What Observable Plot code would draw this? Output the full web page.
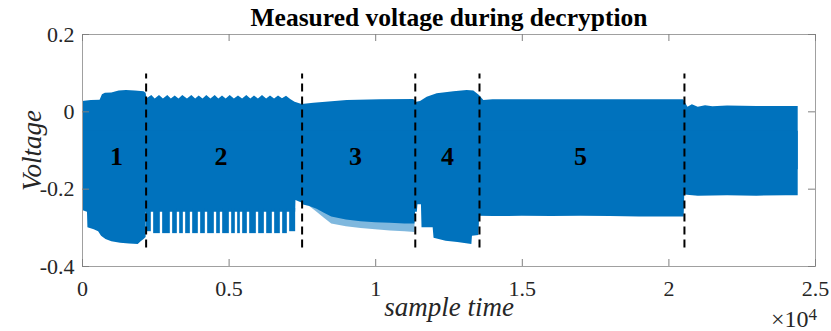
<!DOCTYPE html>
<html><head><meta charset="utf-8">
<script src="https://cdn.jsdelivr.net/npm/d3@7"></script>
<script src="https://cdn.jsdelivr.net/npm/@observablehq/plot@0.6"></script>
<style>html,body{margin:0;padding:0;background:#fff}</style>
</head><body><div id="chart"></div>
<script>
// ---- data ----
const titleText = "Measured voltage during decryption";
const xLabelText = "sample time";
const yLabelText = "Voltage";
const xTicks = [0, 5000, 10000, 15000, 20000, 25000];
const yTicks = [-0.4, -0.2, 0, 0.2];

// upper envelope of the measured signal
const upperT = [0,300,600,680,780,1000,1250,1500,1800,2100,2170,
  2200,2364,2480,2626,2760,2909,3030,3162,3290,3421,3580,3728,3860,3980,4110,4240,4380,4526,4650,4775,4900,5037,5180,5320,5460,5604,5740,5866,6000,6139,6280,6412,6550,6685,6820,6958,7100,7250,7490,
  7890,9028,10164,11300,11400,11528,11756,12097,12665,13120,13347,13540,
  13688,14000,15000,16000,17000,18000,19000,20000,20500,
  20550,20650,20800,21000,21250,21500,22000,23000,24410];
const upperV = [0.027,0.029,0.030,0.044,0.048,0.049,0.054,0.055,0.054,0.052,0.048,
  0.034,0.042,0.033,0.042,0.033,0.042,0.033,0.041,0.033,0.042,0.033,0.042,0.033,0.041,0.033,0.042,0.033,0.042,0.033,0.041,0.033,0.042,0.033,0.041,0.033,0.042,0.033,0.041,0.033,0.042,0.033,0.041,0.033,0.041,0.034,0.040,0.032,0.025,0.019,
  0.022,0.029,0.031,0.032,0.025,0.027,0.038,0.047,0.052,0.055,0.054,0.042,
  0.029,0.031,0.031,0.031,0.031,0.031,0.031,0.031,0.031,
  0.025,0.012,0.018,0.012,0.016,0.013,0.015,0.014,0.014];

// lower envelope (solid part)
const lowerT = [0,170,185,400,550,650,800,1000,1300,1600,1900,2000,2100,2170,
  2175,7270,7280,7480,
  7500,7750,8000,8250,8500,9000,9500,10000,10500,11000,11340,
  11360,11420,11440,11560,11580,11700,11960,11990,12400,12800,13100,13280,13300,13520,
  13545,14000,15000,16000,17000,18000,19000,20000,20520,
  20540,21000,22000,23000,24000,24410];
const lowerV = [-0.255,-0.26,-0.30,-0.305,-0.31,-0.322,-0.33,-0.336,-0.34,-0.342,-0.343,-0.336,-0.33,-0.325,
  -0.26,-0.26,-0.229,-0.236,
  -0.24,-0.245,-0.252,-0.262,-0.272,-0.28,-0.284,-0.287,-0.288,-0.29,-0.29,
  -0.26,-0.26,-0.24,-0.24,-0.30,-0.30,-0.30,-0.327,-0.335,-0.338,-0.341,-0.343,-0.322,-0.32,
  -0.27,-0.271,-0.27,-0.271,-0.27,-0.271,-0.272,-0.272,-0.272,
  -0.215,-0.218,-0.217,-0.218,-0.217,-0.217];

// lighter fringe of thin spikes below the solid band in part 3
const fringeT = [7750,8000,8250,8500,9000,9500,10000,10500,11000,11340];
const fringeV = [-0.245,-0.26,-0.275,-0.29,-0.297,-0.302,-0.305,-0.308,-0.31,-0.312];

// comb of deeper excursions in part 2 (start, end, depth)
const combStart = [2180,2427,2734,3075,3314,3519,3758,4030,4269,4576,4781,5088,5292,5463,5702,6009,6282,6554,6827,7066];
const combEnd   = [2347,2654,2995,3234,3439,3678,3950,4189,4496,4701,5008,5212,5383,5622,5929,6202,6474,6747,6986,7270];
const combDepth = [-0.31,-0.315,-0.315,-0.315,-0.315,-0.315,-0.315,-0.315,-0.315,-0.315,-0.315,-0.315,-0.315,-0.315,-0.315,-0.315,-0.315,-0.315,-0.315,-0.31];

// phase dividers and labels
const dividerX = [2170, 7490, 11350, 13540, 20530];
const phaseLabels = ["1","2","3","4","5"];
const phaseLabelX = [1160, 4724, 9311, 12449, 16985];
const phaseLabelY = -0.115;

// ---- build tables ----
const BLUE = "#0072BD";
const FONT = "'Liberation Serif','Times New Roman',Times,serif";
const upper = upperT.map((t,i)=>({t, v: upperV[i]}));
const lower = lowerT.map((t,i)=>({t, v: lowerV[i]}));
const fringe = fringeT.map((t,i)=>({t, v: fringeV[i]}));
const comb = combStart.map((a,i)=>({a, b: combEnd[i], d: combDepth[i]}));
const labels = phaseLabels.map((s,i)=>({s, x: phaseLabelX[i], y: phaseLabelY}));

const mL = 82, mR = 16, mT = 34, mB = 65, W = 831, H = 331;
const innerW = W - mL - mR, innerH = H - mT - mB, TL = 7;

const chart = Plot.plot({
  width: W, height: H,
  marginLeft: mL, marginRight: mR, marginTop: mT, marginBottom: mB,
  x: {domain: [0, 25000]},
  y: {domain: [-0.4, 0.2]},
  style: {fontFamily: FONT, background: "#fff", overflow: "visible"},
  marks: [
    Plot.areaY(fringe, {x: "t", y1: "v", y2: -0.2, fill: BLUE, fillOpacity: 0.5}),
    Plot.areaY(upper, {x: "t", y1: -0.15, y2: "v", fill: BLUE}),
    Plot.areaY(lower, {x: "t", y1: "v", y2: -0.05, fill: BLUE}),
    Plot.rect(comb, {x1: "a", x2: "b", y1: "d", y2: -0.25, fill: BLUE}),
    Plot.ruleX(dividerX, {x: d=>d, y1: -0.352, y2: 0.098, stroke: "#000", strokeWidth: 2, strokeDasharray: "8,5"}),
    Plot.text(labels, {x: "x", y: "y", text: "s", fontSize: 26, fontWeight: "bold", fill: "#000"}),
    Plot.frame({stroke: "#a0a0a0"}),
    Plot.tickX(xTicks, {x: d=>d, insetTop: innerH - TL, stroke: "#808080"}),
    Plot.tickX(xTicks, {x: d=>d, insetBottom: innerH - TL, stroke: "#808080"}),
    Plot.tickY(yTicks, {y: d=>d, insetRight: innerW - TL, stroke: "#808080"}),
    Plot.tickY(yTicks, {y: d=>d, insetLeft: innerW - TL, stroke: "#808080"}),
    Plot.axisX(xTicks, {tickSize: 0, tickPadding: 14, fontSize: 22, fill: "#262626", tickFormat: d => String(d/1e4), label: null}),
    Plot.axisY(yTicks, {tickSize: 0, tickPadding: 8, fontSize: 22, fill: "#262626", tickFormat: d => String(d), label: null}),
    Plot.text([titleText], {text: d=>d, frameAnchor: "top", dy: -9, lineAnchor: "bottom", fontSize: 25.5, fontWeight: "bold", fill: "#000"}),
    Plot.text([xLabelText], {text: d=>d, frameAnchor: "bottom", dy: 49, lineAnchor: "bottom", textAnchor: "middle", fontSize: 27, fontStyle: "italic", fill: "#262626"}),
    Plot.text([yLabelText], {text: d=>d, frameAnchor: "left", dx: -50, rotate: -90, textAnchor: "middle", lineAnchor: "middle", fontSize: 27, fontStyle: "italic", fill: "#262626"}),
    Plot.text(["\u00d710"], {text: d=>d, frameAnchor: "bottom-right", dx: -7, dy: 60, textAnchor: "end", lineAnchor: "bottom", fontSize: 24, fill: "#262626"}),
    Plot.text(["4"], {text: d=>d, frameAnchor: "bottom-right", dx: -7, dy: 53, textAnchor: "start", lineAnchor: "bottom", fontSize: 17, fill: "#262626"})
  ]
});
document.getElementById("chart").appendChild(chart);
</script>
</body></html>
